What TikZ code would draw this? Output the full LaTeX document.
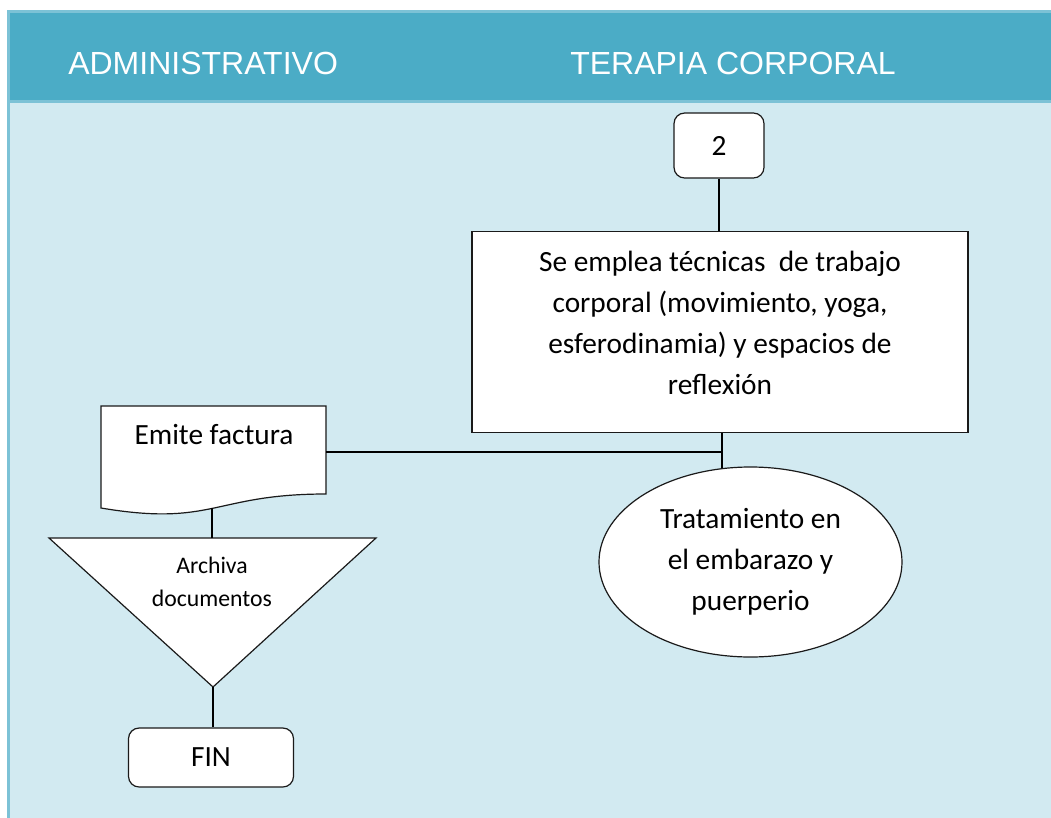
\documentclass[tikz,border=0pt]{standalone}
\usepackage{fontspec}
\setmainfont{Carlito}
\newfontfamily\headfont{Liberation Sans}
\usepackage{xcolor}
\usepackage{tikz}
\usetikzlibrary{calc,positioning,shapes.geometric}
\definecolor{headdark}{HTML}{4BACC6}
\definecolor{headlight}{HTML}{7CC2D6}
\definecolor{bodyfill}{HTML}{D2EAF1}
\definecolor{shapeink}{HTML}{1A1A1A}
\newcommand{\bodysize}{\fontsize{22pt}{30.75pt}\selectfont}
\newcommand{\smallbody}{\fontsize{17.8pt}{24.75pt}\selectfont}

\tikzset{
  shapeline/.style={draw=shapeink,line width=0.9pt},
  flowbox/.style={shapeline,fill=white,rectangle,inner sep=0pt,align=center,font=\bodysize},
  termbox/.style={flowbox,rounded corners=8pt},
  connector/.style={draw=black,line width=1.1pt},
  headtext/.style={anchor=base west,inner sep=0pt,text=white,font=\headfont\fontsize{24pt}{28pt}\selectfont}
}

\begin{document}
\begin{tikzpicture}[x=0.75pt,y=-0.75pt]
    \useasboundingbox (0,0) rectangle (1051,818);
    % lanes
    \fill[headlight] (7,10) rectangle (1051,103);
    \fill[headdark] (10,13) rectangle (1051,100);
    \fill[bodyfill] (10,103) rectangle (1051,818);
    \fill[headlight] (7,103) rectangle (10,818);
    \node[headtext] (laneadmin) at (68,74) {ADMINISTRATIVO};
    \node[headtext] (laneterapia) at (570,74) {TERAPIA CORPORAL};

    % terapia corporal
    \node[termbox,minimum width=67.5pt,minimum height=48.75pt] (conector) at (719,145.5) {2};
    \node[flowbox,minimum width=372pt,minimum height=150.75pt] (proceso) at (720,332) {};
    \node[inner sep=0pt,align=center,font=\bodysize] (procesotxt) at (720,323) {
      Se emplea técnicas\ \ de trabajo\\
      corporal (movimiento, yoga,\\
      esferodinamia) y espacios de\\
      reflexión};
    \node[shapeline,fill=white,ellipse,inner sep=0pt,align=center,font=\bodysize,
      minimum width=227.25pt,minimum height=142.5pt] (tratamiento) at (750.5,562) {
      Tratamiento en\\
      el embarazo y\\
      puerperio};

    % administrativo
    \draw[shapeline,fill=white] (101,406) -- (326,406) -- (326,494)
      .. controls (213.5,494) and (213.5,527) .. (101,508) -- cycle;
    \node[inner sep=0pt,font=\bodysize] (factura) at (214,435) {Emite factura};
    \coordinate (facturaright) at (326,452);
    \coordinate (facturabottom) at (212,508);
    \draw[shapeline,fill=white] (49,538) coordinate (archivaleft)
      -- (376,538) coordinate (archivaright)
      -- (213,687) coordinate (archivaapex) -- cycle;
    \coordinate (archivatop) at (212,538);
    \node[inner sep=0pt,align=center,font=\smallbody] (archiva) at (212,582) {Archiva\\documentos};
    \node[termbox,minimum width=123.75pt,minimum height=44.25pt] (fin) at (211,757.5) {FIN};

    % connectors
    \draw[connector] (conector.south) -- (conector.south |- proceso.north);
    \draw[connector] (tratamiento.107 |- proceso.south) -- (tratamiento.107);
    \draw[connector] (facturaright) -- (facturaright -| tratamiento.107);
    \draw[connector] (facturabottom) -- (archivatop);
    \draw[connector] (archivaapex) -- (archivaapex |- fin.north);
\end{tikzpicture}
\end{document}
